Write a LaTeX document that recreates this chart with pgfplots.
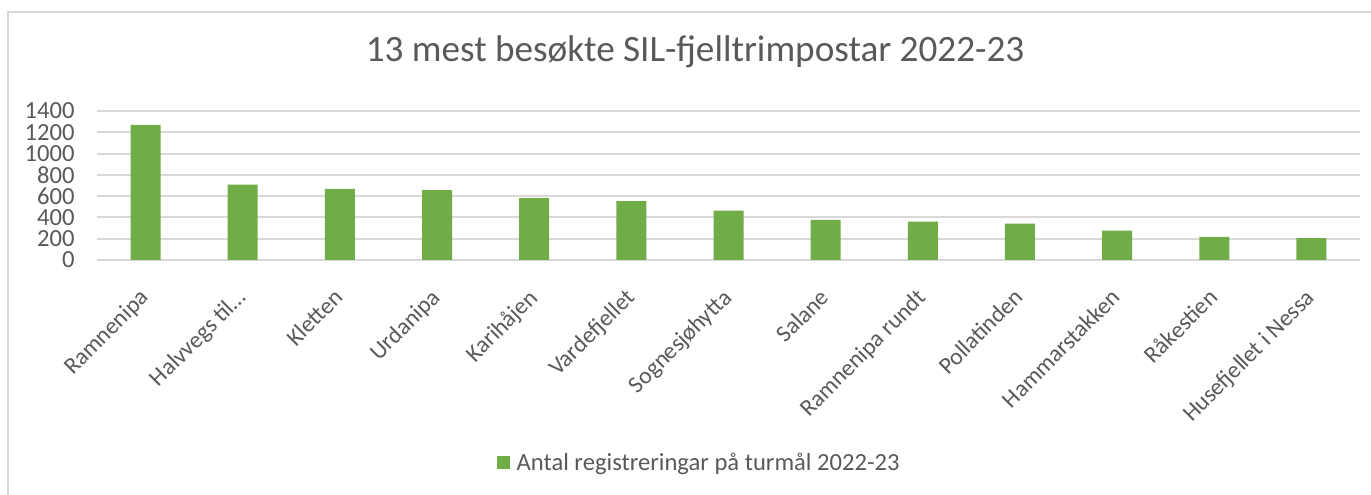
\documentclass[border=0pt]{standalone}
\usepackage{pgfplots}
\pgfplotsset{compat=1.18}
\usepackage{fontspec}
\setmainfont{Carlito}
\definecolor{xlgreen}{HTML}{70AD47}
\definecolor{txtgray}{HTML}{595959}
\definecolor{gridgray}{HTML}{D9D9D9}
\begin{document}
\begin{tikzpicture}
\useasboundingbox (0,0) rectangle (685.5bp,247.5bp);
\draw[gridgray, line width=1bp] (4bp,-10bp) -- (4bp,241.5bp) -- (700bp,241.5bp);
\node[text=txtgray, font=\fontsize{18.6bp}{22bp}\selectfont] at (347.5bp,221.5bp) {13 mest besøkte SIL-fjelltrimpostar 2022-23};
\begin{axis}[
  at={(48.5bp,117.5bp)}, anchor=south west,
  scale only axis, width=631.5bp, height=74.5bp,
  xmin=-0.5, xmax=12.5, ymin=0, ymax=1400,
  ytick={0,200,...,1400},
  xtick={0,...,12},
  xticklabels={Ramnenipa, {Halvvegs til\ldots}, Kletten, Urdanipa, Karihåjen, Vardefjellet, Sognesjøhytta, Salane, Ramnenipa rundt, Pollatinden, Hammarstakken, Råkestien, Husefjellet i Nessa},
  /pgf/number format/assume math mode=true,
  /pgf/number format/1000 sep={},
  ymajorgrids, major grid style={gridgray, line width=1bp},
  axis line style={draw=none},
  major tick style={draw=none},
  tick label style={text=txtgray, font=\fontsize{12.3bp}{14bp}\selectfont},
  yticklabel style={anchor=east, inner sep=0pt, xshift=-11bp},
  xticklabel style={rotate=45, anchor=north east, inner sep=0pt, xshift=-12bp, yshift=-7bp,
    font=\fontsize{11.8bp}{14bp}\selectfont},
  legend style={at={(0.4775,-1.362)}, anchor=center, draw=none, fill=none,
    font=\fontsize{12.3bp}{14bp}\selectfont, text=txtgray, legend cell align=left},
  legend image code/.code={\fill[xlgreen] (0bp,-3.25bp) rectangle (6.5bp,3.25bp);},
]
\addplot[ybar, bar width=15bp, fill=xlgreen, draw=none] coordinates {
(0,1269) (1,709) (2,669) (3,656) (4,582) (5,554) (6,464) (7,376) (8,361) (9,342) (10,277) (11,218) (12,205)};
\addlegendentry{\hspace{1.5bp}Antal registreringar på turmål 2022-23}
\end{axis}
\end{tikzpicture}
\end{document}
